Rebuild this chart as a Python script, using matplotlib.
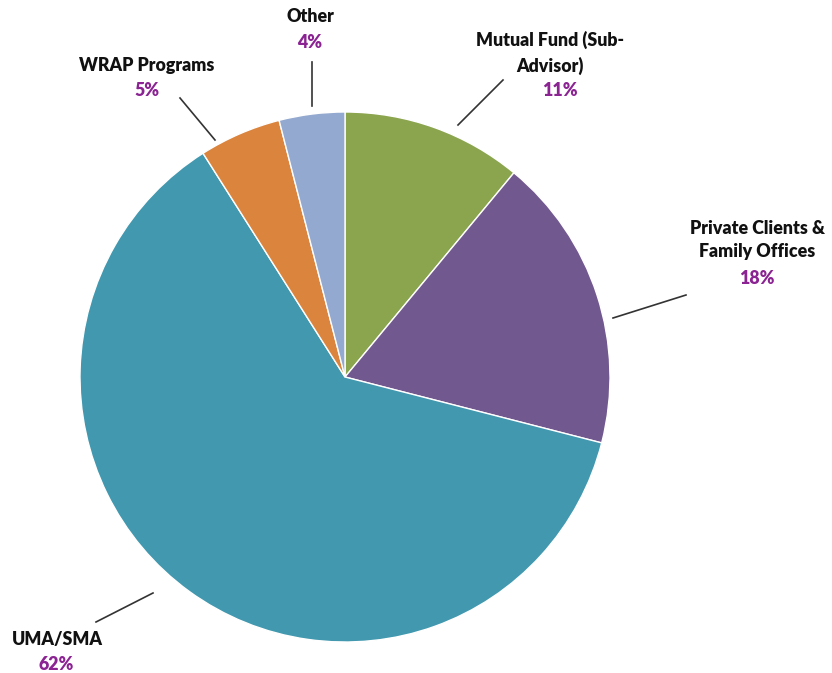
import matplotlib.pyplot as plt

# data
labels = ['Mutual Fund (Sub-\nAdvisor)', 'Private Clients &\nFamily Offices', 'UMA/SMA',
          'WRAP Programs', 'Other']
shares = [11, 18, 62, 5, 4]
colors = ['#8BA54F', '#71588F', '#4198AF', '#DB843D', '#93A9CF']

# label positions (pixel coords, y from top) and leader lines
label_pos = [(550, 53), (757, 240), (57, 640), (147, 66), (310, 16)]
pct_pos = [(560, 91), (757, 278), (56, 665), (147, 90), (310, 42)]
leaders = [((458, 125), (503, 80)), ((613, 318), (686, 295)), ((96, 622), (153, 593)),
           ((215, 140), (180, 98)), ((312, 106), (312, 62))]

W, H = 832, 673
plt.rcParams['font.family'] = ['Lato', 'DejaVu Sans']

fig = plt.figure(figsize=(W / 100, H / 100), dpi=100)
ax = fig.add_axes([0, 0, 1, 1])

ax.pie(shares, colors=colors, startangle=90, counterclock=False,
       center=(345, H - 377), radius=265,
       wedgeprops=dict(edgecolor='white', linewidth=1))

for i in range(len(labels)):
    ax.text(label_pos[i][0], H - label_pos[i][1], labels[i], ha='center', va='center',
            fontsize=12.8, fontweight='heavy', color='#111111', linespacing=1.5)
    ax.text(pct_pos[i][0], H - pct_pos[i][1], f'{shares[i]}%', ha='center', va='center',
            fontsize=12.8, fontweight='heavy', color='#8B2393')
    (x0, y0), (x1, y1) = leaders[i]
    ax.plot([x0, x1], [H - y0, H - y1], color='#333333', lw=1.2)

ax.set_xlim(0, W)
ax.set_ylim(0, H)
ax.set_aspect('equal')
ax.axis('off')

fig.savefig('out.png', dpi=100)
